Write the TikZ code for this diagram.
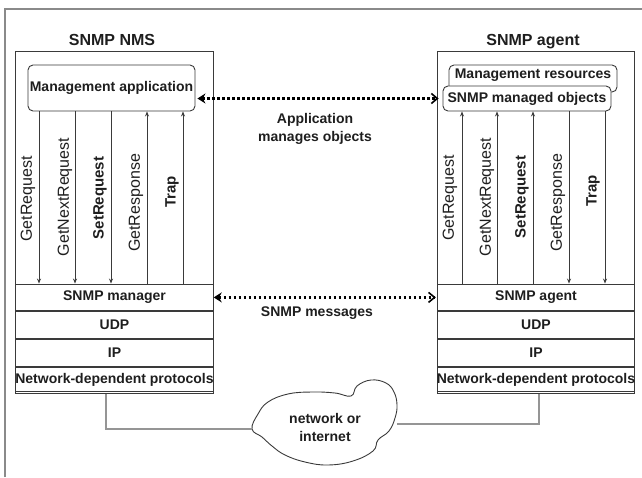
\documentclass[tikz,border=0pt]{standalone}
\usepackage{fontspec}
\setmainfont{Liberation Sans}
\usetikzlibrary{arrows.meta,positioning}

\definecolor{linegray}{HTML}{3A3A3A}
\definecolor{framegray}{HTML}{8A8A8A}
\definecolor{wiregray}{HTML}{959595}
\definecolor{inkgray}{HTML}{1E1E1E}

\begin{document}
\begin{tikzpicture}[x=1pt, y=-1pt,
	every node/.style={text=inkgray},
	frame/.style={draw=framegray, line width=1.4pt},
	outer/.style={draw=linegray, line width=0.9pt, minimum width=197.5pt, minimum height=340pt, inner sep=0pt},
	title/.style={font=\bfseries\fontsize{16}{18}\selectfont},
	app/.style={draw=linegray, line width=0.9pt, fill=white, rounded corners=5pt, font=\bfseries\fontsize{14}{16}\selectfont},
	layer/.style={draw=linegray, line width=0.9pt, inner sep=0pt, minimum height=26.75pt, minimum width=197.5pt, font=\bfseries\fontsize{14}{16}\selectfont},
	sig/.style={draw=linegray, line width=0.9pt},
	dn/.style={-{Stealth[length=5pt, width=4pt]}},
	up/.style={{Stealth[length=5pt, width=4pt]}-},
	lbl/.style={rotate=90, inner sep=0pt, font=\fontsize{16}{18}\selectfont},
	blbl/.style={rotate=90, inner sep=0pt, font=\bfseries\fontsize{15}{18}\selectfont},
	msg/.style={draw=black, line width=2.6pt, dash pattern=on 2.6pt off 2.4pt, {Stealth[length=8pt, width=10pt]}-{Straight Barb[length=6pt, width=10pt, line width=1.6pt]}},
	note/.style={align=center, font=\bfseries\fontsize{14}{18}\selectfont},
	wire/.style={draw=wiregray, line width=1.2pt},
	cloudline/.style={draw=linegray, line width=0.9pt}
]
	\useasboundingbox (0,0) rectangle (642,477);
	\draw[frame] (5,477) -- (5,9) -- (642,9);

	\node[outer] (nms) at (114.5,221) {};
	\node[title] (nmsT) at (112,40) {SNMP NMS};
	\node[app, minimum width=167pt, minimum height=46pt, inner sep=0pt] (app) at (111.5,88) {Management application};
	\node[layer] (mgrL) at (114.5,297.4) {SNMP manager};
	\node[layer, below=0pt of mgrL] (udpL) {UDP};
	\node[layer, below=0pt of udpL] (ipL) {IP};
	\node[layer, below=0pt of ipL] (ndpL) {\makebox[0pt]{Network-dependent protocols}};

	\node[outer] (agt) at (536,221) {};
	\node[title] (agtT) at (533,42) {SNMP agent};
	\node[app, minimum width=168pt, text height=13pt, text depth=14pt, inner sep=0pt] (mres) at (533,78.5) {Management resources};
	\node[app, minimum width=168pt, minimum height=25pt, inner sep=0pt] (mobj) at (527,98.5) {SNMP managed objects};
	\node[layer] (mgrR) at (536,297.4) {SNMP agent};
	\node[layer, below=0pt of mgrR] (udpR) {UDP};
	\node[layer, below=0pt of udpR] (ipR) {IP};
	\node[layer, below=0pt of ipR] (ndpR) {\makebox[0pt]{Network-dependent protocols}};

	\draw[sig, dn] (app.south -| 39,0) -- (mgrL.north -| 39,0);
	\draw[sig, dn] (app.south -| 75,0) -- (mgrL.north -| 75,0);
	\draw[sig, dn] (app.south -| 111,0) -- (mgrL.north -| 111,0);
	\draw[sig, up] (app.south -| 147,0) -- (mgrL.north -| 147,0);
	\draw[sig, up] (app.south -| 183,0) -- (mgrL.north -| 183,0);
	\node[lbl] (getL) at (28,199) {GetRequest};
	\node[lbl] (nextL) at (65,197) {GetNextRequest};
	\node[blbl] (setL) at (100,198) {SetRequest};
	\node[lbl] (respL) at (136,203) {GetResponse};
	\node[blbl] (trapL) at (172,192) {Trap};

	\draw[sig, up] (mobj.south -| 462,0) -- (mgrR.north -| 462,0);
	\draw[sig, up] (mobj.south -| 497,0) -- (mgrR.north -| 497,0);
	\draw[sig, up] (mobj.south -| 533,0) -- (mgrR.north -| 533,0);
	\draw[sig, dn] (mobj.south -| 569,0) -- (mgrR.north -| 569,0);
	\draw[sig, dn] (mobj.south -| 605,0) -- (mgrR.north -| 605,0);
	\node[lbl] (getR) at (450,198) {GetRequest};
	\node[lbl] (nextR) at (487,197) {GetNextRequest};
	\node[blbl] (setR) at (522,197) {SetRequest};
	\node[lbl] (respR) at (558,203) {GetResponse};
	\node[blbl] (trapR) at (593,191) {Trap};

	\draw[msg, shorten <=2pt, shorten >=4pt] (app.east |- mobj.west) -- (mobj.west);
	\node[note] (appnote) at (315,129) {Application\\manages objects};
	\draw[msg, shorten >=1pt] (mgrL.east) -- (mgrR.west);
	\node[note] (msgnote) at (317,313) {SNMP messages};

	\draw[cloudline] plot[smooth cycle, tension=0.7] coordinates {(252,429) (258,414) (268,402) (288,394) (312,392) (335,393) (351,396) (357,386) (371,380) (386,383) (394,392) (397,405) (395,418) (389,431) (378,440) (373,451) (353,461) (328,465) (305,462) (285,455) (272,446) (262,437)};
	\node[note] (net) at (325,427) {network or\\internet};
	\coordinate (netW) at (252,429);
	\coordinate (netE) at (397,424);
	\draw[wire] (ndpL.south -| 106,0) |- (netW);
	\draw[wire] (ndpR.south -| 539,0) |- (netE);
\end{tikzpicture}
\end{document}
